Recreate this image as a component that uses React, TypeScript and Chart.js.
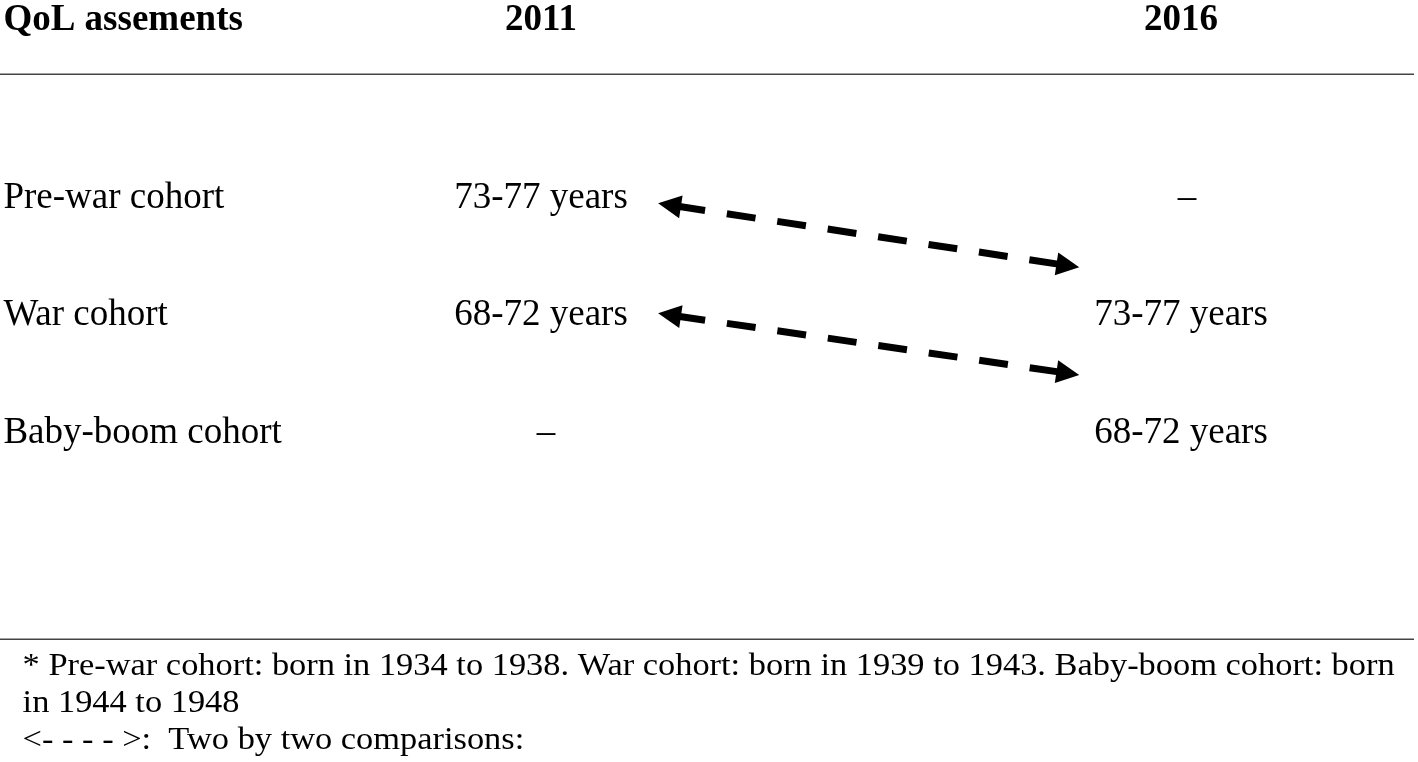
import React, { useEffect, useRef } from "react";
import { Chart, registerables } from "chart.js";

Chart.register(...registerables);

// ---- content / data ----
const headerLabel = "QoL assements";
const columnYears = ["2011", "2016"];
const columnPositions = [1, 2];
const labelColumn = 0.16;
const rowLabels = ["Pre-war cohort", "War cohort", "Baby-boom cohort"];
const rowPositions = [0, 1, 2];
const ages2011 = ["73-77 years", "68-72 years", "–"];
const ages2016 = ["–", "73-77 years", "68-72 years"];

// two-by-two comparison arrows (column units, row units)
const arrowStartCol = [1.183, 1.183];
const arrowStartRow = [-0.04, 0.896];
const arrowEndCol = [1.841, 1.841];
const arrowEndRow = [0.505, 1.421];

const headerRow = -1.515;
const topRuleRow = -1.14;
const bottomRuleRow = 3.664;
const footnoteColumn = 0.19;
const footnoteRows = [3.974, 4.289, 4.604];
const footnotes = [
  "* Pre-war cohort: born in 1934 to 1938. War cohort: born in 1939 to 1943. Baby-boom cohort: born",
  "in 1944 to 1948",
  "<- - - - >:  Two by two comparisons:",
];

const SERIF = "'Liberation Serif', 'Times New Roman', serif";

const tablePlugin = {
  id: "tableText",
  beforeDatasetsDraw(chart: any) {
    const { ctx, scales } = chart;
    const xs = scales.x;
    const ys = scales.y;
    ctx.save();
    ctx.fillStyle = "#000";
    ctx.textBaseline = "alphabetic";

    // header
    ctx.font = `bold 37px ${SERIF}`;
    ctx.textAlign = "left";
    ctx.fillText(headerLabel, xs.getPixelForValue(labelColumn), ys.getPixelForValue(headerRow));
    ctx.textAlign = "center";
    columnYears.forEach((yr, i) => {
      ctx.fillText(yr, xs.getPixelForValue(columnPositions[i]), ys.getPixelForValue(headerRow));
    });

    // rules
    ctx.strokeStyle = "#444";
    ctx.lineWidth = 1.5;
    [topRuleRow, bottomRuleRow].forEach((r) => {
      const y = Math.round(ys.getPixelForValue(r)) + 0.25;
      ctx.beginPath();
      ctx.moveTo(chart.chartArea.left, y);
      ctx.lineTo(chart.chartArea.right - 4, y);
      ctx.stroke();
    });

    // rows
    ctx.font = `37px ${SERIF}`;
    rowLabels.forEach((lab, i) => {
      const y = ys.getPixelForValue(rowPositions[i]);
      ctx.textAlign = "left";
      ctx.fillText(lab, xs.getPixelForValue(labelColumn), y);
      ctx.textAlign = "center";
      const d1 = ages2011[i] === "–" ? 5 : 0;
      const d2 = ages2016[i] === "–" ? 6 : 0;
      ctx.fillText(ages2011[i], xs.getPixelForValue(columnPositions[0]) + d1, y);
      ctx.fillText(ages2016[i], xs.getPixelForValue(columnPositions[1]) + d2, y);
    });

    // footnotes (slightly widened like the source)
    ctx.font = `32px ${SERIF}`;
    ctx.textAlign = "left";
    footnotes.forEach((t, i) => {
      const x = xs.getPixelForValue(footnoteColumn);
      const y = ys.getPixelForValue(footnoteRows[i]);
      ctx.save();
      ctx.translate(x, y);
      ctx.scale(1.075, 1);
      ctx.fillText(t, 0, 0);
      ctx.restore();
    });
    ctx.restore();
  },
  afterDatasetsDraw(chart: any) {
    const { ctx, scales } = chart;
    const xs = scales.x;
    const ys = scales.y;
    ctx.save();
    ctx.fillStyle = "#000";
    const head = (tx: number, ty: number, fx: number, fy: number) => {
      const a = Math.atan2(ty - fy, tx - fx);
      const len = 23;
      const hw = 11.5;
      const bx = tx - len * Math.cos(a);
      const by = ty - len * Math.sin(a);
      ctx.beginPath();
      ctx.moveTo(tx, ty);
      ctx.lineTo(bx + hw * Math.sin(a), by - hw * Math.cos(a));
      ctx.lineTo(bx - hw * Math.sin(a), by + hw * Math.cos(a));
      ctx.closePath();
      ctx.fill();
    };
    arrowStartCol.forEach((_, i) => {
      const x0 = xs.getPixelForValue(arrowStartCol[i]);
      const y0 = ys.getPixelForValue(arrowStartRow[i]);
      const x1 = xs.getPixelForValue(arrowEndCol[i]);
      const y1 = ys.getPixelForValue(arrowEndRow[i]);
      head(x1, y1, x0, y0);
      head(x0, y0, x1, y1);
    });
    ctx.restore();
  },
};

export default function App() {
  const ref = useRef<HTMLCanvasElement | null>(null);

  useEffect(() => {
    document.body.style.margin = "0";
    const canvas = ref.current;
    if (!canvas) return;
    const datasets = arrowStartCol.map((_, i) => ({
      type: "scatter" as const,
      label: `arrow${i}`,
      data: [
        { x: arrowStartCol[i], y: arrowStartRow[i] },
        { x: arrowEndCol[i], y: arrowEndRow[i] },
      ],
      showLine: true,
      borderColor: "#000",
      backgroundColor: "#000",
      borderWidth: 7,
      borderDash: [29, 22],
      borderDashOffset: 32.5,
      borderCapStyle: "butt" as const,
      pointRadius: 0,
      pointHoverRadius: 0,
    }));
    const chart = new Chart(canvas, {
      type: "scatter",
      data: { datasets },
      options: {
        animation: false,
        responsive: false,
        maintainAspectRatio: false,
        devicePixelRatio: 1,
        layout: { padding: 0 },
        events: [],
        plugins: {
          legend: { display: false },
          tooltip: { enabled: false },
          title: { display: false },
        },
        scales: {
          x: { type: "linear", min: 0.1547, max: 2.3703, display: false },
          y: { type: "linear", min: -1.7702, max: 4.7149, reverse: true, display: false },
        },
      },
      plugins: [tablePlugin],
    });
    return () => chart.destroy();
  }, []);

  return (
    <div style={{ width: 1418, height: 762, background: "#fff" }}>
      <canvas ref={ref} width={1418} height={762} style={{ display: "block" }} />
    </div>
  );
}
